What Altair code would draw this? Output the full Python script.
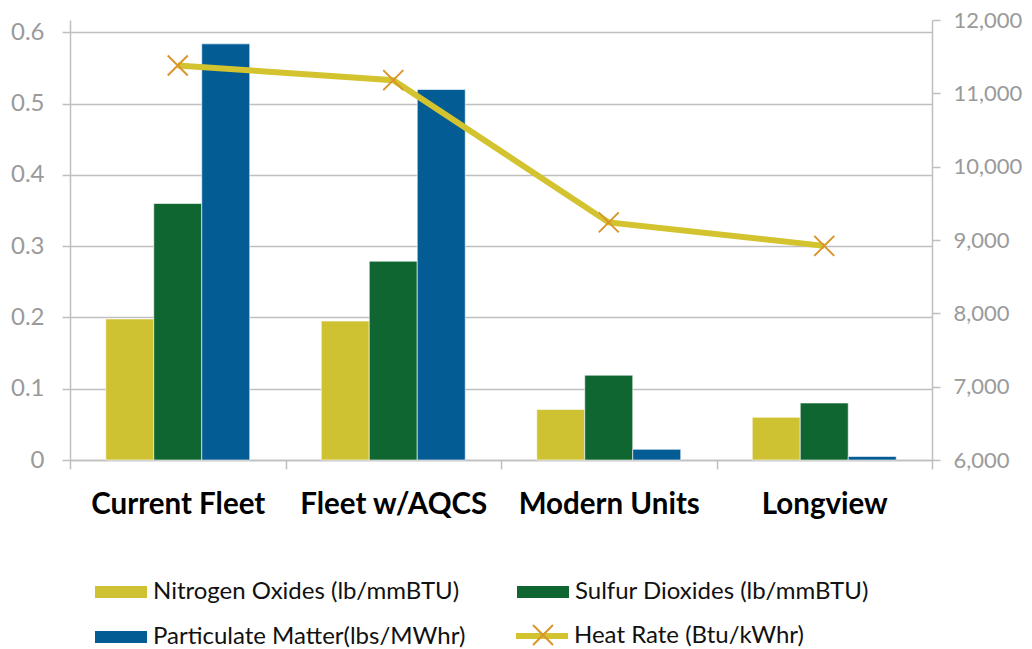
import altair as alt
import pandas as pd

categories = ["Current Fleet", "Fleet w/AQCS", "Modern Units", "Longview"]
series = ["Nitrogen Oxides (lb/mmBTU)", "Sulfur Dioxides (lb/mmBTU)", "Particulate Matter(lbs/MWhr)"]
nox = [0.198, 0.195, 0.071, 0.060]
so2 = [0.360, 0.279, 0.119, 0.080]
pm = [0.584, 0.520, 0.015, 0.005]
heat_rate = [11380, 11180, 9240, 8920]
hr_label = "Heat Rate (Btu/kWhr)"
hr_marker = "marker"

bar_colors = ["#CFC232", "#0F6631", "#035C94"]
line_color = "#D2C32F"
marker_color = "#D9952A"
grid_color = "#BFBFBF"
tick_label_color = "#9A9A9A"
FONT = "Lato"

rows = []
for i, c in enumerate(categories):
    for s, vals in zip(series, [nox, so2, pm]):
        rows.append({"category": c, "series": s, "value": vals[i]})
bar_df = pd.DataFrame(rows)
hr_df = pd.DataFrame({"category": categories, "hr": heat_rate,
                      "line_series": [hr_label] * 4, "pt_series": [hr_marker] * 4})

rect_path = "M-1,-0.23L1,-0.23L1,0.23L-1,0.23Z"
line_path = "M-1,0L1,0"
x_path = "M-1,-1L1,1M-1,1L1,-1"

legend_common = dict(orient="none", title=None, padding=0,
                     labelFont=FONT, labelFontSize=24, labelColor="#111111",
                     labelLimit=600)

right_axis = alt.Axis(orient="right", values=[6000, 7000, 8000, 9000, 10000, 11000, 12000],
                      labelExpr="format(datum.value, ',')", grid=False,
                      domainColor=grid_color, domainWidth=1.5,
                      tickColor=grid_color, tickSize=8, tickWidth=1.5,
                      labelFont=FONT, labelFontSize=22, labelColor=tick_label_color,
                      labelPadding=13)
right_scale = alt.Scale(domain=[6000, 12000], nice=False, zero=False)

bars = alt.Chart(bar_df).mark_bar(stroke="#ffffff", strokeWidth=0.6).encode(
    x=alt.X("category:N", sort=categories, title=None,
            scale=alt.Scale(paddingInner=0, paddingOuter=0),
            axis=alt.Axis(labelAngle=0, tickBand="extent", tickSize=9, tickWidth=1.5,
                          tickColor=grid_color, domainColor=grid_color, domainWidth=1.5,
                          labelFont=FONT, labelFontSize=29.5, labelFontWeight="bold",
                          labelColor="#000000", labelPadding=21, labelLimit=400,
                          grid=False)),
    xOffset=alt.XOffset("series:N", sort=series,
                        scale=alt.Scale(paddingInner=0, paddingOuter=0.745)),
    y=alt.Y("value:Q", title=None,
            scale=alt.Scale(domain=[0, 0.6175], nice=False, zero=True),
            axis=alt.Axis(values=[0, 0.1, 0.2, 0.3, 0.4, 0.5, 0.6],
                          labelExpr="datum.value == 0 ? '0' : format(datum.value, '.1f')",
                          grid=True, gridColor=grid_color, gridWidth=1.5,
                          domainColor=grid_color, domainWidth=1.5,
                          tickColor=grid_color, tickSize=8, tickWidth=1.5,
                          labelFont=FONT, labelFontSize=24, labelColor=tick_label_color,
                          labelPadding=18)),
    color=alt.Color("series:N", sort=series,
                    scale=alt.Scale(domain=series, range=bar_colors),
                    legend=alt.Legend(legendX=25, legendY=546, columns=2, direction="horizontal",
                                      symbolType=rect_path, symbolSize=2704,
                                      symbolStrokeWidth=0, labelOffset=6,
                                      columnPadding=51, rowPadding=7, **legend_common)),
)

line = alt.Chart(hr_df).mark_line(strokeWidth=6).encode(
    x=alt.X("category:N", sort=categories),
    y=alt.Y("hr:Q", title=None, scale=right_scale, axis=right_axis),
    stroke=alt.Stroke("line_series:N", scale=alt.Scale(domain=[hr_label], range=[line_color]),
                      legend=alt.Legend(legendX=443, legendY=587, symbolType=line_path,
                                        symbolSize=2704, symbolStrokeWidth=6, labelOffset=3,
                                        **legend_common)),
)

points = alt.Chart(hr_df).mark_point(filled=False, strokeWidth=2, size=400,
                                     color=marker_color, opacity=1).encode(
    x=alt.X("category:N", sort=categories),
    y=alt.Y("hr:Q", title=None, scale=right_scale, axis=right_axis),
    shape=alt.Shape("pt_series:N", scale=alt.Scale(domain=[hr_marker], range=[x_path]),
                    legend=alt.Legend(legendX=461, legendY=603, symbolSize=400,
                                      symbolStrokeColor=marker_color,
                                      symbolFillColor="transparent", symbolStrokeWidth=2,
                                      labelExpr="''", labelOffset=6, **legend_common)),
)

chart = alt.layer(bars, alt.layer(line, points)).resolve_scale(
    y="independent"
).properties(
    width=862, height=440,
    autosize=alt.AutoSizeParams(type="none"),
    padding={"left": 62, "top": 12, "right": 92, "bottom": 189},
).configure_view(strokeOpacity=0)

chart.save("out.html", embed_options={"renderer": "svg", "actions": False})
